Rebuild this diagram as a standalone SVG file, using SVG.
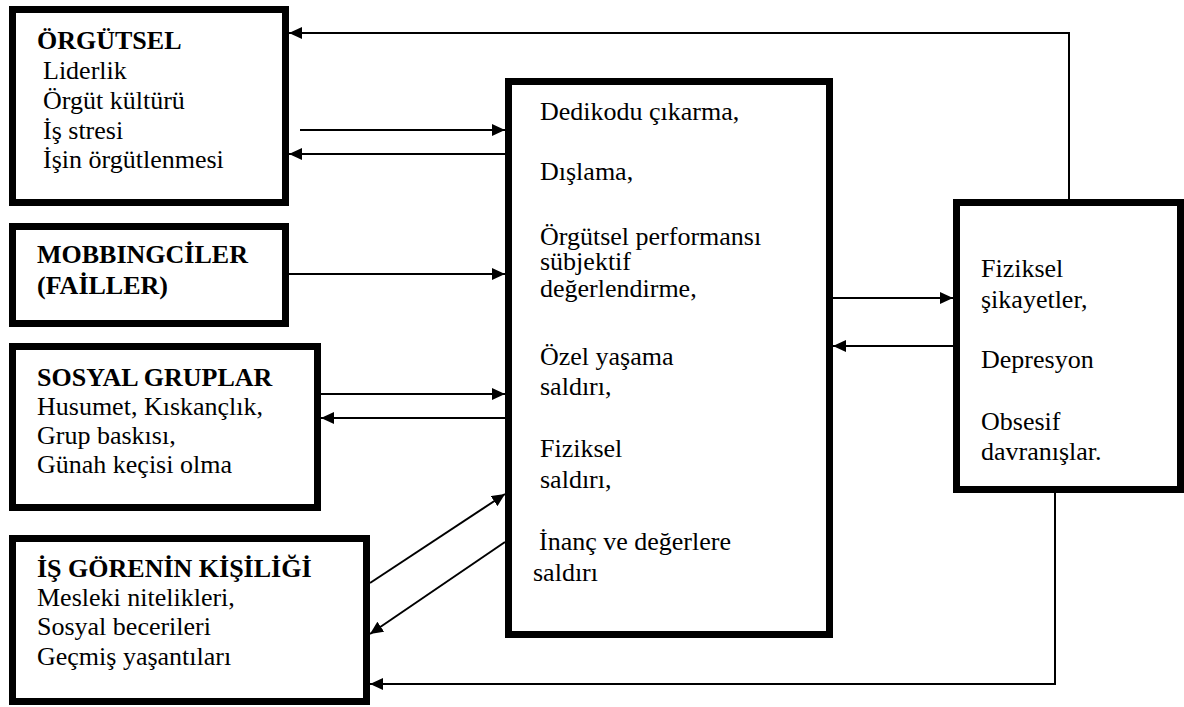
<svg xmlns="http://www.w3.org/2000/svg" width="1184" height="707" viewBox="0 0 1184 707">
<style>
.box{fill:#fff;stroke:#000;stroke-width:7}
.t{font-family:"Liberation Serif","Times New Roman",serif;font-size:26px;fill:#000}
.b{font-weight:bold}
.c{fill:none;stroke:#000;stroke-width:2}
</style>
<defs>
<marker id="ah" markerUnits="userSpaceOnUse" markerWidth="14" markerHeight="12" refX="13" refY="6" orient="auto">
<path d="M0,0 L13,6 L0,12 z" fill="#000"/>
</marker>
</defs>
<rect width="1184" height="707" fill="#fff"/>
<g id="connectors">
<polyline class="c" points="1069,199 1069,33 289,33" marker-end="url(#ah)"/>
<line class="c" x1="300" y1="130" x2="505" y2="130" marker-end="url(#ah)"/>
<line class="c" x1="505" y1="154" x2="289" y2="154" marker-end="url(#ah)"/>
<line class="c" x1="289" y1="274" x2="505" y2="274" marker-end="url(#ah)"/>
<line class="c" x1="321" y1="394" x2="505" y2="394" marker-end="url(#ah)"/>
<line class="c" x1="505" y1="418" x2="321" y2="418" marker-end="url(#ah)"/>
<line class="c" x1="370" y1="583" x2="505" y2="494" marker-end="url(#ah)"/>
<line class="c" x1="505" y1="542" x2="370" y2="634" marker-end="url(#ah)"/>
<line class="c" x1="833" y1="298" x2="953" y2="298" marker-end="url(#ah)"/>
<line class="c" x1="953" y1="346" x2="833" y2="346" marker-end="url(#ah)"/>
<polyline class="c" points="1055,493 1055,684 370,684" marker-end="url(#ah)"/>
</g>
<g id="orgutsel">
<rect class="box" x="12.5" y="9.5" width="273" height="193"/>
<text class="t b" x="37" y="49">ÖRGÜTSEL</text>
<text class="t" x="43" y="79">Liderlik</text>
<text class="t" x="43" y="109">Örgüt kültürü</text>
<text class="t" x="43" y="139">İş stresi</text>
<text class="t" x="43" y="168">İşin örgütlenmesi</text>
</g>
<g id="mobbingciler">
<rect class="box" x="12.5" y="226.5" width="273" height="97"/>
<text class="t b" x="37" y="263">MOBBINGCİLER</text>
<text class="t b" x="37" y="294">(FAİLLER)</text>
</g>
<g id="sosyal">
<rect class="box" x="12.5" y="346.5" width="305" height="161"/>
<text class="t b" x="37" y="386">SOSYAL GRUPLAR</text>
<text class="t" x="37" y="415">Husumet, Kıskançlık,</text>
<text class="t" x="37" y="444">Grup baskısı,</text>
<text class="t" x="37" y="473">Günah keçisi olma</text>
</g>
<g id="isgoren">
<rect class="box" x="12.5" y="538.5" width="354" height="163"/>
<text class="t b" x="37" y="577">İŞ GÖRENİN KİŞİLİĞİ</text>
<text class="t" x="37" y="606">Mesleki nitelikleri,</text>
<text class="t" x="37" y="635">Sosyal becerileri</text>
<text class="t" x="37" y="665">Geçmiş yaşantıları</text>
</g>
<g id="davranislar">
<rect class="box" x="508.5" y="81.5" width="321" height="553"/>
<text class="t" x="540" y="120">Dedikodu çıkarma,</text>
<text class="t" x="540" y="180">Dışlama,</text>
<text class="t" x="540" y="245">Örgütsel performansı</text>
<text class="t" x="540" y="270">sübjektif</text>
<text class="t" x="540" y="297">değerlendirme,</text>
<text class="t" x="540" y="365">Özel yaşama</text>
<text class="t" x="540" y="395">saldırı,</text>
<text class="t" x="540" y="457">Fiziksel</text>
<text class="t" x="540" y="488">saldırı,</text>
<text class="t" x="539" y="550">İnanç ve değerlere</text>
<text class="t" x="533" y="581">saldırı</text>
</g>
<g id="sonuclar">
<rect class="box" x="956.5" y="202.5" width="224" height="287"/>
<text class="t" x="981" y="277">Fiziksel</text>
<text class="t" x="981" y="308">şikayetler,</text>
<text class="t" x="981" y="368">Depresyon</text>
<text class="t" x="981" y="430">Obsesif</text>
<text class="t" x="981" y="460">davranışlar.</text>
</g>
</svg>
